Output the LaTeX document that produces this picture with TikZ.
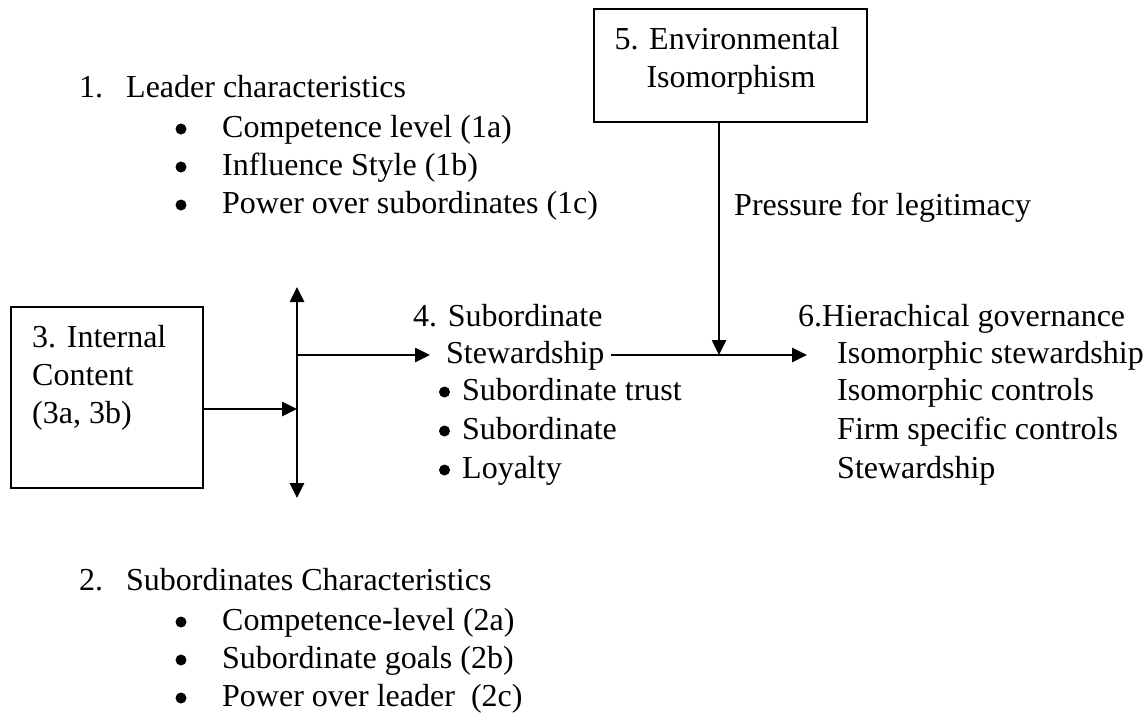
\documentclass[tikz,border=0pt]{standalone}
\usepackage{fontspec}
\setmainfont{Liberation Serif}
\usetikzlibrary{arrows.meta}
\begin{document}
\begin{tikzpicture}[x=1pt,y=-1pt,
  txt/.style={anchor=base west,inner sep=0pt,font=\fontsize{32}{38}\selectfont,text=black},
  ctxt/.style={anchor=base,inner sep=0pt,font=\fontsize{32}{38}\selectfont,text=black},
  dot/.style={circle,fill=black,inner sep=0pt,minimum size=11pt},
  boxst/.style={draw=black,line width=2pt,inner sep=0pt},
  arr/.style={draw=black,line width=2.6pt,-{Triangle[length=15pt,width=14pt]}},
  darr/.style={draw=black,line width=2.6pt,{Triangle[length=15pt,width=14pt]}-{Triangle[length=15pt,width=14pt]}}]
\useasboundingbox (0,0) rectangle (1147,715);
% list 1
\node[txt] (n1) at (79,97) {1.};
\node[txt] (t1) at (126,97) {Leader characteristics};
\node[dot] (b1a) at (181,129) {};
\node[txt] (t1a) at (222,137) {Competence level (1a)};
\node[dot] (b1b) at (181,167) {};
\node[txt] (t1b) at (222,175) {Influence Style (1b)};
\node[dot] (b1c) at (181,205) {};
\node[txt] (t1c) at (222,213) {Power over subordinates (1c)};
% list 2
\node[txt] (n2) at (79,590) {2.};
\node[txt] (t2) at (126,590) {Subordinates Characteristics};
\node[dot] (b2a) at (181,622) {};
\node[txt] (t2a) at (222,630) {Competence-level (2a)};
\node[dot] (b2b) at (181,660) {};
\node[txt] (t2b) at (222,668) {Subordinate goals (2b)};
\node[dot] (b2c) at (181,698) {};
\node[txt] (t2c) at (222,706) {Power over leader\ \ (2c)};
% box 3
\node[boxst,minimum width=192pt,minimum height=181pt] (box3) at (107,397.5) {};
\node[txt] (t3a) at (32,347) {3. Internal};
\node[txt] (t3b) at (32,385) {Content};
\node[txt] (t3c) at (32,423) {(3a, 3b)};
% box 5
\node[boxst,minimum width=273pt,minimum height=113pt] (box5) at (730.5,65.5) {};
\node[ctxt] (t5a) at (727,49) {5. Environmental};
\node[ctxt] (t5b) at (731,87) {Isomorphism};
\node[txt] (press) at (734,215) {Pressure for legitimacy};
% block 4
\node[txt] (t4) at (413,326) {4. Subordinate};
\node[txt] (t4s) at (446,363) {Stewardship};
\node[dot] (b4a) at (444.5,392) {};
\node[txt] (t4a) at (462,400) {Subordinate trust};
\node[dot] (b4b) at (444.5,431) {};
\node[txt] (t4b) at (462,439) {Subordinate};
\node[dot] (b4c) at (444.5,470) {};
\node[txt] (t4c) at (462,478) {Loyalty};
% block 6
\node[txt] (t6) at (798,326) {6.Hierachical governance};
\node[txt] (t6a) at (837,363) {Isomorphic stewardship};
\node[txt] (t6b) at (837,400) {Isomorphic controls};
\node[txt] (t6c) at (837,439) {Firm specific controls};
\node[txt] (t6d) at (837,478) {Stewardship};
% connectors
\coordinate (vtop) at (297,287);
\coordinate (vbot) at (297,498);
\coordinate (vmid) at (297,409);
\coordinate (vup) at (297,355);
\coordinate (join) at (719,355);
\draw[darr] (vbot) -- (vtop);
\draw[arr] (box3.east |- vmid) -- (vmid);
\draw[arr,shorten >=16pt] (vup) -- (vup -| t4s.west);
\draw[arr,shorten <=6pt,shorten >=30pt] (t4s.east |- join) -- (join -| t6a.west);
\draw[arr] (join |- box5.south) -- (join);
\end{tikzpicture}
\end{document}
